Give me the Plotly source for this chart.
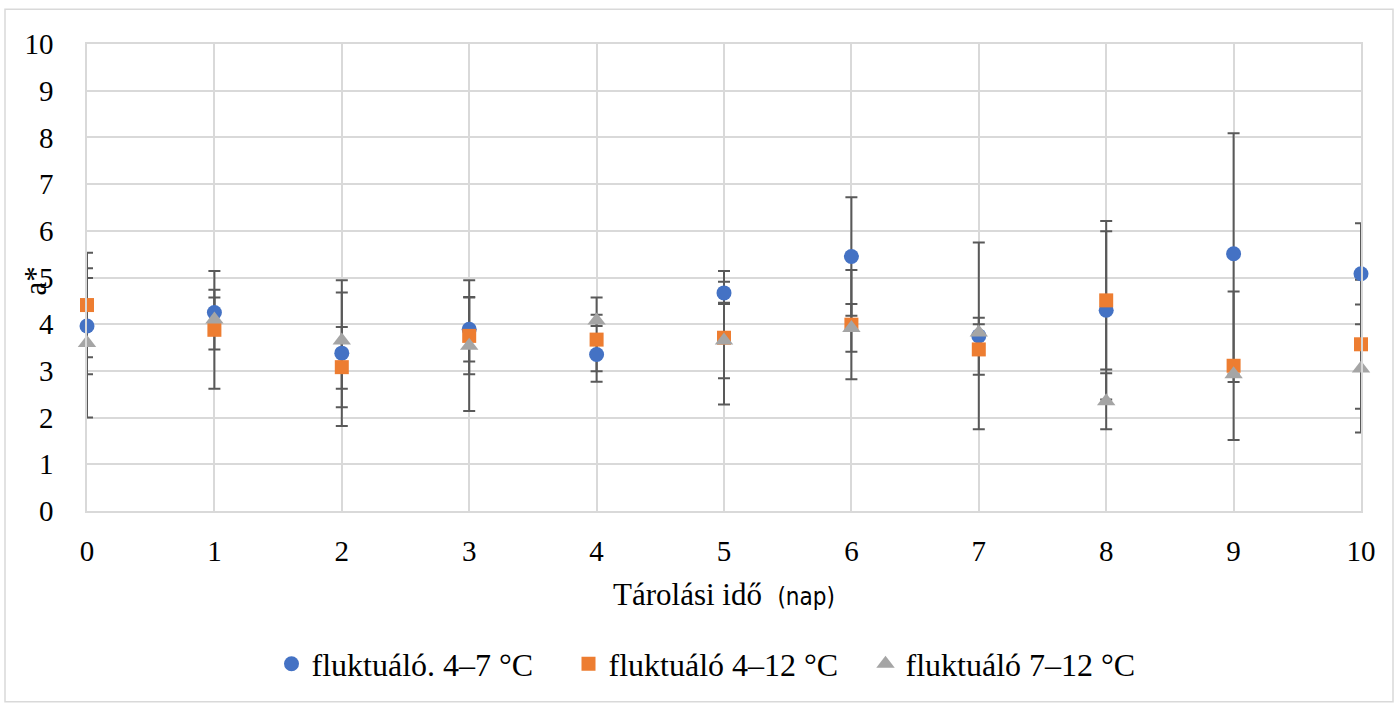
import plotly.graph_objects as go

# Storage days
days = [0, 1, 2, 3, 4, 5, 6, 7, 8, 9, 10]

# a* means and standard deviations for each fluctuating regime
a_4_7 = [3.96, 4.25, 3.38, 3.89, 3.35, 4.67, 5.45, 3.75, 4.30, 5.51, 5.08]
sd_4_7 = [1.03, 0.32, 1.56, 0.69, 0.36, 0.24, 1.27, 2.00, 1.91, 2.58, 1.08]

a_4_12 = [4.41, 3.88, 3.08, 3.75, 3.67, 3.71, 3.99, 3.46, 4.51, 3.11, 3.57]
sd_4_12 = [1.12, 1.26, 0.86, 0.82, 0.90, 1.43, 1.17, 0.54, 1.48, 1.59, 1.38]

a_7_12 = [3.60, 4.10, 3.65, 3.54, 4.08, 3.65, 3.92, 3.82, 2.35, 2.93, 3.05]
sd_7_12 = [1.60, 0.64, 1.03, 1.40, 0.12, 0.81, 0.51, 0.32, 0.60, 0.17, 1.37]

series_names = ["fluktuáló. 4–7 °C", "fluktuáló 4–12 °C", "fluktuáló 7–12 °C"]
y_ticks = [0, 1, 2, 3, 4, 5, 6, 7, 8, 9, 10]

W, H = 1399, 703
L, R, T, B = 87, 38, 44, 189
PW, PH = W - L - R, H - T - B

FONT = "Liberation Serif"
ERR_COLOR = "#595959"
GRID = "#D9D9D9"

means = [a_4_7, a_4_12, a_7_12]
sds = [sd_4_7, sd_4_12, sd_7_12]
colors = ["#4472C4", "#ED7D31", "#A5A5A5"]
symbols = ["circle", "square", "triangle-up"]
sizes = [15, 14, 16]

fig = go.Figure()

# error bars underneath all markers
for m, s in zip(means, sds):
    fig.add_trace(go.Scatter(
        x=days, y=m, mode="markers",
        marker=dict(size=1, color="rgba(0,0,0,0)"),
        error_y=dict(type="data", array=s, visible=True,
                     color=ERR_COLOR, thickness=2, width=6),
        showlegend=False, hoverinfo="skip", cliponaxis=False,
    ))

for name, m, c, sym, sz in zip(series_names, means, colors, symbols, sizes):
    fig.add_trace(go.Scatter(
        x=days, y=m, mode="markers", name=name,
        marker=dict(size=sz, color=c, symbol=sym, line=dict(width=0)),
        cliponaxis=False,
    ))

def px_to_paper_x(px):
    return (px - L) / PW

def px_to_paper_y(py):
    return (H - B - py) / PH

tick_font = dict(family=FONT, size=29, color="#000000")

fig.update_layout(
    width=W, height=H,
    margin=dict(l=L, r=R, t=T, b=B),
    paper_bgcolor="white", plot_bgcolor="white",
    font=dict(family=FONT, color="#000000", size=29),
    showlegend=True,
    legend=dict(
        orientation="h", x=px_to_paper_x(717), xanchor="center",
        y=px_to_paper_y(668), yanchor="middle",
        font=dict(family=FONT, size=32, color="#000000"),
        entrywidth=252, itemsizing="trace",
        bgcolor="rgba(0,0,0,0)",
    ),
    xaxis=dict(
        range=[0, 10], tickvals=days, ticktext=[str(d) for d in days],
        showgrid=True, gridcolor=GRID, gridwidth=1.5,
        zeroline=False, showline=True, linecolor=GRID, linewidth=1.5, mirror=True,
        ticks="", ticklabelstandoff=13,
        tickfont=tick_font,
    ),
    yaxis=dict(
        range=[0, 10], tickvals=y_ticks, ticktext=[str(v) for v in y_ticks],
        showgrid=True, gridcolor=GRID, gridwidth=1.5,
        zeroline=False, showline=True, linecolor=GRID, linewidth=1.5, mirror=True,
        ticks="", ticklabelstandoff=26,
        tickfont=tick_font,
    ),
    shapes=[dict(
        type="rect", xref="paper", yref="paper",
        x0=px_to_paper_x(5), x1=px_to_paper_x(1393),
        y0=px_to_paper_y(706), y1=px_to_paper_y(9),
        line=dict(color=GRID, width=1.5), fillcolor="rgba(0,0,0,0)", layer="below",
    )],
    annotations=[
        dict(
            text="a*", textangle=-90, showarrow=False,
            xref="paper", yref="paper",
            x=px_to_paper_x(35), y=px_to_paper_y(283),
            xanchor="center", yanchor="middle",
            font=dict(family=FONT, size=31, color="#000000"),
        ),
        dict(
            text="Tárolási idő  <span style=\"font-family:'Liberation Sans Narrow','DejaVu Sans Condensed',sans-serif;font-size:24px\">(nap)</span>",
            showarrow=False, xref="paper", yref="paper",
            x=0.5, y=px_to_paper_y(598), xanchor="center", yanchor="middle",
            font=dict(family=FONT, size=31, color="#000000"),
        ),
    ],
)

fig.write_html("out.html")
